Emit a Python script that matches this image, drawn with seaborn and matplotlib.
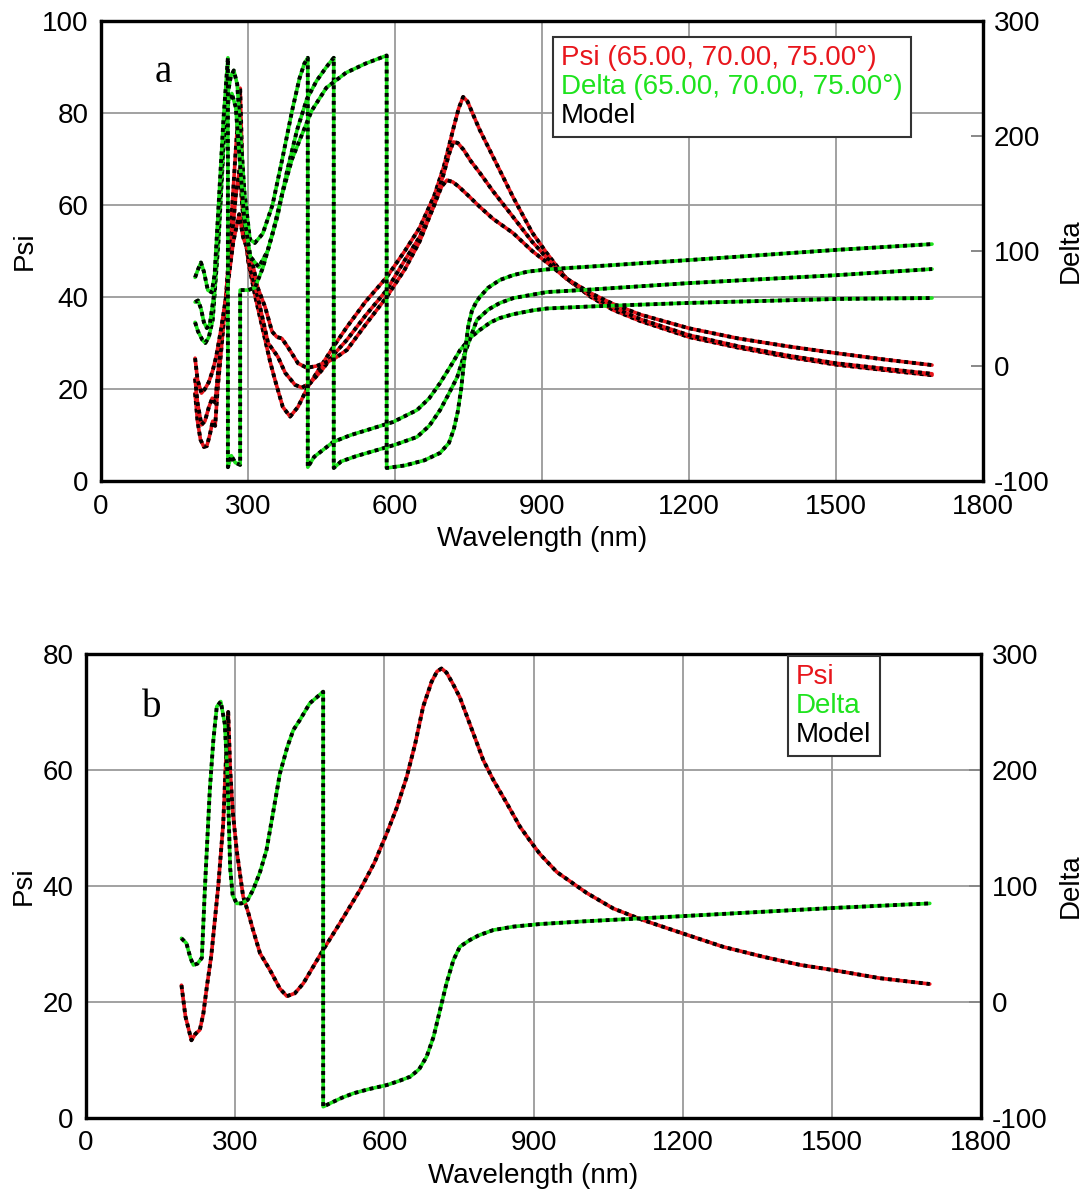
import matplotlib
matplotlib.use("Agg")
import matplotlib.pyplot as plt
from matplotlib.lines import Line2D
import seaborn as sns

# ---- panel a: Psi, three angles ----
wl_psi_a_hi = [192, 197, 203, 210, 216, 222, 228, 233, 238, 245, 255, 265, 275, 284, 288, 293, 300, 315, 330, 345,
               355, 371, 386, 402, 422, 440, 475, 502, 540, 583, 620, 650, 680, 700, 720, 730, 739, 748, 760, 773,
               800, 841, 880, 910, 950, 1000, 1045, 1100, 1200, 1300, 1400, 1500, 1600, 1696]
psi_a_hi = [19.1, 13, 9, 7.4, 7.6, 10, 13, 12, 20, 28, 40, 55, 72, 85.4, 70, 57, 48, 40, 33, 26,
            22, 16.1, 14.0, 16.1, 20.4, 23.5, 29.3, 33.5, 39, 44.3, 50, 55, 62, 68.5, 77, 81, 83.5, 82.5, 79.5, 76.3,
            70.5, 61.7, 54, 49.5, 44, 40, 37.2, 34.8, 31.3, 29, 27, 25.3, 24.1, 23.0]

wl_psi_a_mid = [192, 197, 205, 212, 220, 227, 233, 240, 250, 265, 275, 283, 288, 295, 305, 320, 341, 361, 376, 396,
                410, 427, 450, 475, 502, 540, 583, 620, 650, 680, 700, 710, 719, 728, 740, 755, 773, 800, 841, 880,
                910, 950, 1000, 1045, 1100, 1200, 1300, 1400, 1500, 1600, 1696]
psi_a_mid = [22.2, 17, 12.2, 13, 16, 18, 17, 25, 35, 50, 62, 68, 60, 52, 46, 40, 30, 27, 23.5, 20.9,
             20.3, 21.3, 24, 27.5, 30.7, 36, 41.5, 48, 53, 60, 67, 71, 73.7, 73.5, 72, 69.5, 67, 63, 57.4, 52,
             48.5, 44, 40.3, 37.8, 35.2, 31.7, 29.3, 27.3, 25.6, 24.4, 23.3]

wl_psi_a_lo = [192, 197, 205, 212, 220, 228, 235, 245, 258, 270, 282, 290, 300, 308, 320, 335, 349, 359, 369, 382,
               402, 420, 440, 475, 502, 540, 583, 620, 650, 680, 695, 706, 718, 730, 750, 773, 800, 841, 880, 910,
               950, 1000, 1045, 1100, 1200, 1300, 1400, 1500, 1600, 1696]
psi_a_lo = [26.7, 22, 19.1, 20, 21.5, 24, 27, 33, 42, 52, 58, 53, 50, 48, 42, 37.8, 32.5, 31.3, 31, 29,
            25.6, 24.6, 25, 26.5, 28.5, 34, 40, 46, 52, 60, 64, 65.4, 65, 64, 62, 59.6, 57, 53.9, 50, 47.5,
            44, 40.8, 38.5, 36.2, 33.2, 31, 29.3, 27.8, 26.4, 25.2]

# ---- panel a: Delta, three angles (wrapped at 270 -> -90) ----
wl_dlt_a_1 = [192, 198, 207, 213, 220, 228, 240, 250, 258, 265, 271, 278, 285, 293, 304, 314, 330, 350, 370, 390,
              405, 415, 422, 422, 435, 474, 510, 543, 596, 645, 670, 692, 715, 733, 755, 773, 795, 814, 841, 880,
              910, 1000, 1196, 1502, 1696]
dlt_a_1 = [38, 30, 22.6, 20, 25, 40, 110, 190, 235, 252, 257, 245, 200, 150, 110, 107, 115, 140, 180, 222,
           250, 263, 268, -88, -79, -66, -60, -55.7, -48.7, -38.3, -28, -14.8, 1, 13.9, 25, 31.3, 38, 41.7, 45, 48.3,
           50, 51.8, 54.8, 58.3, 59.1]

wl_dlt_a_2 = [192, 198, 204, 210, 216, 222, 230, 240, 250, 260, 267, 275, 283, 292, 305, 322, 340, 360, 380, 400,
              420, 440, 460, 475, 475, 490, 520, 560, 600, 645, 670, 692, 710, 727, 740, 750, 767, 790, 814, 841,
              880, 910, 1000, 1196, 1502, 1696]
dlt_a_2 = [55.6, 57, 50, 38, 33, 36, 60, 130, 195, 230, 237, 225, 180, 130, 95, 86, 100, 130, 170, 205,
           232, 248, 260, 268, -88.7, -83, -78.5, -73.5, -68.5, -61.7, -52, -38.3, -24, -9.6, 8, 20, 40, 49, 54.8, 59,
           62, 64.3, 66.5, 72, 79, 84.3]

wl_dlt_a_3 = [192, 198, 204, 210, 218, 226, 232, 240, 250, 259, 259, 266, 274, 284, 284, 300, 314, 330, 350, 370,
              390, 406, 430, 460, 500, 540, 583, 583, 620, 660, 692, 710, 720, 728, 735, 740, 745, 750, 757, 765,
              773, 790, 814, 841, 870, 910, 1000, 1196, 1502, 1696]
dlt_a_3 = [77, 84, 90, 82, 66, 64, 80, 140, 215, 268, -88, -78, -84, -86, 66, 66, 68, 85, 115, 150,
           180, 197, 222, 242, 255, 263, 270, -88.7, -86.5, -82, -75.6, -67, -55, -40, -20, 0, 20, 36, 48, 55,
           60, 68, 74.8, 79, 82, 84, 86.5, 92, 101, 106]

# ---- panel b: single angle ----
wl_psi_b = [192, 200, 212, 220, 229, 236, 243, 252, 259, 266, 276, 283, 286, 290, 295, 303, 316, 326, 336, 350,
            370, 390, 404, 420, 437, 477, 510, 551, 580, 605, 625, 645, 662, 678, 695, 706, 715, 725, 737, 752,
            779, 799, 819, 846, 873, 893, 913, 947, 1007, 1061, 1121, 1201, 1282, 1362, 1436, 1503, 1597, 1697]
psi_b = [22.9, 17.5, 13.4, 14.5, 15.2, 18, 22.6, 28, 34, 40, 50.8, 65, 70, 60, 53, 46.2, 38.2, 35.5, 32.4, 28.4,
         25.5, 22.3, 21, 21.5, 23.2, 29, 33.5, 39.3, 44, 49.1, 53.5, 58.8, 64.5, 70.9, 75.2, 77, 77.5, 76.8, 75, 72.5,
         66.3, 61.7, 58.3, 54.3, 50.2, 47.8, 45.5, 42.4, 38.8, 36.1, 34.1, 31.8, 29.5, 27.8, 26.4, 25.5, 24.1, 23.1]

wl_dlt_b = [192, 202, 210, 216, 224, 233, 239, 244, 249, 256, 263, 271, 279, 284, 287, 290, 295, 303, 313, 325,
            336, 350, 363, 377, 390, 405, 417, 430, 450, 465, 477, 477, 491, 515, 538, 570, 605, 630, 652, 670,
            685, 699, 712, 725, 739, 752, 772, 790, 819, 860, 913, 1000, 1121, 1362, 1500, 1697]
dlt_b = [54.9, 50.6, 38, 31.9, 33, 38, 96.6, 140, 182.8, 225, 254.6, 259, 240, 200, 160, 115, 92, 85, 85, 88,
         96.6, 112, 131, 165, 197, 220, 234.5, 243, 257.5, 263, 267.5, -90.3, -87.3, -82.5, -78.7, -75, -71.6, -68,
         -64.4, -58, -47.2, -30, -6.9, 16, 36.2, 47.7, 53.4, 57.5, 62, 65, 67.2, 69.5, 72.2, 77.8, 81, 85]

RED = "#e8161c"
GREEN = "#1ee31e"
GRID = "#9a9a9a"
FS = 20

sns.set_style("white")
plt.rcParams["font.family"] = ["Liberation Sans", "DejaVu Sans"]
plt.rcParams["axes.unicode_minus"] = False
plt.rcParams["text.color"] = "black"
plt.rcParams["axes.labelcolor"] = "black"
plt.rcParams["xtick.labelcolor"] = "black"
plt.rcParams["ytick.labelcolor"] = "black"

W, H = 1083, 1192
fig = plt.figure(figsize=(W / 100, H / 100), dpi=100)


def curve(ax, x, y, color):
    sns.lineplot(x=x, y=y, ax=ax, color=color, lw=2.6, sort=False, estimator=None)
    sns.lineplot(x=x, y=y, ax=ax, color="black", lw=2.8, sort=False, estimator=None,
                 linestyle=(0, (1.0, 1.0)), dash_capstyle="butt")


def panel(rect, psi_sets, dlt_sets, psi_max, legend_labels, legend_xy, letter, letter_xy, ylab_x, dlab_x):
    ax = fig.add_axes(rect)
    ax2 = ax.twinx()
    for x, y in psi_sets:
        curve(ax, x, y, RED)
    for x, y in dlt_sets:
        curve(ax2, x, y, GREEN)

    ax.set_xlim(0, 1800)
    ax.set_ylim(0, psi_max)
    ax.set_xticks(range(0, 1801, 300))
    ax.set_yticks(range(0, psi_max + 1, 20))
    ax2.set_ylim(-100, 300)
    ax2.set_yticks(range(-100, 301, 100))

    ax.grid(True, color=GRID, lw=1.3)
    ax2.grid(False)
    ax.tick_params(axis="both", length=0, pad=9, labelsize=FS, labelcolor="black")
    ax2.tick_params(axis="y", direction="in", length=9, width=1.4, color="#888888", pad=8,
                    labelsize=FS, labelcolor="black")
    for a in (ax, ax2):
        for s in a.spines.values():
            s.set_visible(True)
            s.set_color("black")
            s.set_linewidth(2.3)

    ax.set_xlabel("Wavelength (nm)", fontsize=FS, color="black")
    ax.xaxis.set_label_coords(0.5, -0.098)
    ax.set_ylabel("Psi", fontsize=FS, color="black")
    ax.yaxis.set_label_coords(ylab_x, 0.5)
    ax2.set_ylabel("Delta", fontsize=FS, color="black")
    ax2.yaxis.set_label_coords(dlab_x, 0.5)

    handles = [Line2D([], [], lw=0) for _ in legend_labels]
    leg = ax2.legend(handles, legend_labels, loc="upper left", bbox_to_anchor=legend_xy,
                     handlelength=0, handletextpad=0, labelspacing=0.1, borderpad=0.3,
                     fontsize=FS, labelcolor=[RED, GREEN, "black"], frameon=True, fancybox=False,
                     framealpha=1, edgecolor="#333333", borderaxespad=0)
    leg.get_frame().set_linewidth(1.5)

    ax.text(letter_xy[0], letter_xy[1], letter, transform=ax.transAxes, fontsize=28,
            family="Liberation Serif", ha="center", va="center", color="black")
    return ax, ax2


panel([101 / W, 1 - 481 / H, 882 / W, 460 / H],
      [(wl_psi_a_hi, psi_a_hi), (wl_psi_a_mid, psi_a_mid), (wl_psi_a_lo, psi_a_lo)],
      [(wl_dlt_a_1, dlt_a_1), (wl_dlt_a_2, dlt_a_2), (wl_dlt_a_3, dlt_a_3)],
      100,
      ["Psi (65.00, 70.00, 75.00°)", "Delta (65.00, 70.00, 75.00°)", "Model"],
      (0.512, 0.965), "a", (0.0703, 0.889), -0.072, 1.085)

panel([86 / W, 1 - 1118 / H, 895 / W, 464 / H],
      [(wl_psi_b, psi_b)],
      [(wl_dlt_b, dlt_b)],
      80,
      ["Psi", "Delta", "Model"],
      (0.784, 0.996), "b", (0.0737, 0.884), -0.055, 1.086)

fig.savefig("out.png", dpi=100)
